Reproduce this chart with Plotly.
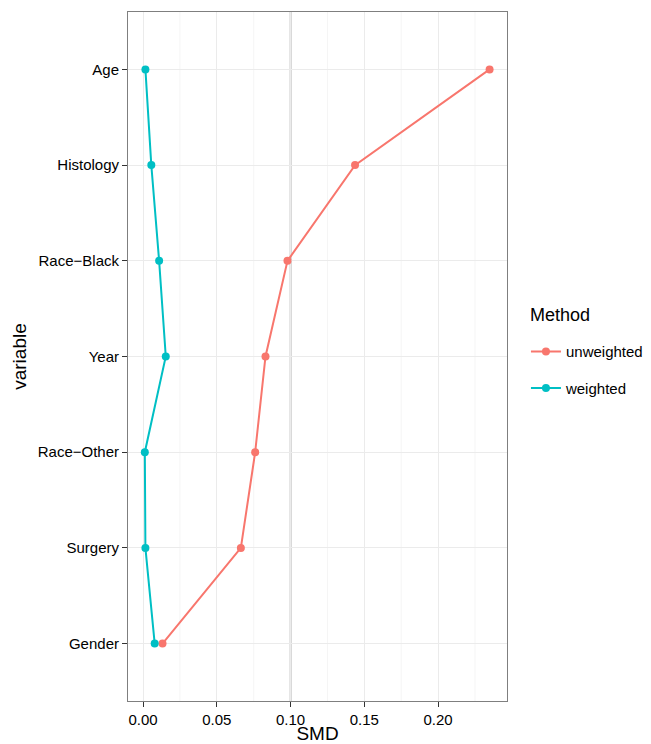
import plotly.graph_objects as go

variables = ["Gender", "Surgery", "Race\u2212Other", "Year", "Race\u2212Black", "Histology", "Age"]
unweighted = [0.0132, 0.0663, 0.0760, 0.0830, 0.0979, 0.1437, 0.2349]
weighted = [0.0079, 0.0016, 0.0012, 0.0154, 0.0109, 0.0056, 0.0016]
x_ticks = [0.0, 0.05, 0.10, 0.15, 0.20]
x_tick_labels = ["0.00", "0.05", "0.10", "0.15", "0.20"]
ref_line = 0.10

FONT = "Liberation Sans, Arial, Helvetica, sans-serif"

fig = go.Figure()
fig.add_trace(go.Scatter(x=unweighted, y=variables, mode="lines+markers", name="unweighted",
                         line=dict(color="#F8766D", width=2), marker=dict(size=8, color="#F8766D"),
                         legendgroup="a"))
fig.add_trace(go.Scatter(x=weighted, y=variables, mode="lines+markers", name="weighted",
                         line=dict(color="#00BFC4", width=2), marker=dict(size=8, color="#00BFC4"),
                         legendgroup="b"))

fig.add_shape(type="line", x0=ref_line, x1=ref_line, y0=0, y1=1, xref="x", yref="paper",
              line=dict(color="#b0b0b0", width=1.8), layer="below")

minor_vals = [-0.025 + 0.05 * i for i in range(0, 6)]
for v in minor_vals:
    fig.add_shape(type="line", x0=v, x1=v, y0=0, y1=1, xref="x", yref="paper",
                  line=dict(color="#f2f2f2", width=0.8), layer="below")

fig.add_annotation(text="Method", x=1.0554, y=0.560, xref="paper", yref="paper",
                   xanchor="left", yanchor="middle", showarrow=False,
                   font=dict(size=18, color="black"))

fig.update_layout(
    width=651, height=736,
    margin=dict(l=120, r=152, t=4, b=43, autoexpand=False),
    paper_bgcolor="white", plot_bgcolor="white",
    font=dict(family=FONT, color="black", size=15),
    legend=dict(x=1.05, xanchor="left", y=0.531, yanchor="top",
                font=dict(size=15), tracegroupgap=14, itemwidth=30),
    showlegend=True,
)
fig.update_xaxes(range=[-0.0102, 0.2467], tickvals=x_ticks, ticktext=x_tick_labels,
                 showgrid=True, gridcolor="#ebebeb", gridwidth=1, automargin=False,
                 ticks="outside", ticklen=5, tickcolor="#333333", tickfont=dict(size=15, color="black"),
                 showline=True, linecolor="#7f7f7f", mirror=True, zeroline=False,
                 title=dict(text="SMD", font=dict(size=19), standoff=1))
fig.update_yaxes(type="category", categoryorder="array", categoryarray=variables,
                 range=[-0.6, 6.6], showgrid=True, gridcolor="#ebebeb", gridwidth=1, automargin=False,
                 ticks="outside", ticklen=5, tickcolor="#333333", tickfont=dict(size=15, color="black"),
                 showline=True, linecolor="#7f7f7f", mirror=True, zeroline=False,
                 title=dict(text="variable", font=dict(size=19), standoff=6))

fig.write_html("out.html")
